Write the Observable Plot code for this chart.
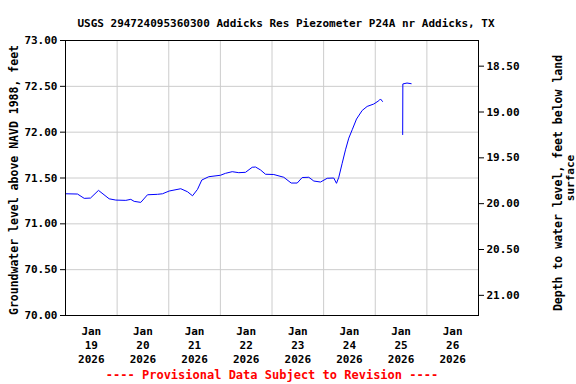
<!DOCTYPE html>
<html><head><meta charset="utf-8">
<script src="https://cdn.jsdelivr.net/npm/d3@7"></script>
<script src="https://cdn.jsdelivr.net/npm/@observablehq/plot@0.6"></script>
<style>body{margin:0;background:#fff} svg{display:block}</style>
</head><body><div id="chart"></div>
<script>
const title = "USGS 294724095360300 Addicks Res Piezometer P24A nr Addicks, TX";
const leftLabel = "Groundwater level above NAVD 1988, feet";
const rightLabel1 = "Depth to water level, feet below land";
const rightLabel2 = "surface";
const caption = "---- Provisional Data Subject to Revision ----";
const landSurface = 91.22;
const levelTicks = [70, 70.5, 71, 71.5, 72, 72.5, 73];
const depthTicks = [18.5, 19, 19.5, 20, 20.5, 21];
const dayNumbers = ["19", "20", "21", "22", "23", "24", "25", "26"];
const monthLabel = "Jan";
const yearLabel = "2026";

const times = [
  "2026-01-19T00:00Z","2026-01-19T05:35Z","2026-01-19T08:42Z","2026-01-19T11:37Z","2026-01-19T15:20Z",
  "2026-01-19T20:18Z","2026-01-19T23:23Z","2026-01-20T04:02Z","2026-01-20T06:21Z","2026-01-20T07:56Z",
  "2026-01-20T11:00Z","2026-01-20T14:07Z","2026-01-20T18:46Z","2026-01-20T21:06Z","2026-01-21T00:12Z",
  "2026-01-21T05:36Z","2026-01-21T08:43Z","2026-01-21T11:03Z","2026-01-21T13:22Z","2026-01-21T15:22Z",
  "2026-01-21T18:37Z","2026-01-22T00:03Z","2026-01-22T02:23Z","2026-01-22T05:30Z","2026-01-22T08:34Z",
  "2026-01-22T11:41Z","2026-01-22T14:48Z","2026-01-22T16:20Z","2026-01-22T18:39Z","2026-01-22T20:59Z",
  "2026-01-23T00:50Z","2026-01-23T05:29Z","2026-01-23T08:55Z","2026-01-23T11:43Z","2026-01-23T14:02Z",
  "2026-01-23T17:06Z","2026-01-23T19:26Z","2026-01-23T22:33Z","2026-01-24T01:40Z","2026-01-24T04:43Z",
  "2026-01-24T05:59Z","2026-01-24T07:03Z","2026-01-24T08:38Z","2026-01-24T10:10Z","2026-01-24T11:42Z",
  "2026-01-24T13:17Z","2026-01-24T15:17Z","2026-01-24T17:56Z","2026-01-24T20:15Z","2026-01-24T23:19Z",
  "2026-01-25T01:39Z","2026-01-25T02:26Z","2026-01-25T03:22Z","2026-01-25T08:00Z",
  "2026-01-25T12:45Z","2026-01-25T12:50Z","2026-01-25T14:46Z","2026-01-25T16:42Z"
];
const levels = [
  71.328, 71.325, 71.278, 71.281, 71.365,
  71.273, 71.259, 71.256, 71.267, 71.245,
  71.234, 71.317, 71.322, 71.328, 71.358,
  71.383, 71.350, 71.306, 71.376, 71.478,
  71.514, 71.530, 71.551, 71.569, 71.558,
  71.562, 71.617, 71.620, 71.588, 71.541,
  71.538, 71.508, 71.445, 71.445, 71.505,
  71.508, 71.467, 71.456, 71.497, 71.500,
  71.442, 71.508, 71.661, 71.807, 71.935,
  72.026, 72.143, 72.237, 72.281, 72.307,
  72.343, 72.362, 72.335, null,
  71.974, 72.526, 72.536, 72.529
];

const data = times.map((t, i) => ({t: new Date(t), v: levels[i] == null ? NaN : levels[i]}));
const dayStart = dayNumbers.map(d => new Date(`2026-01-${d}T00:00Z`));
const dayNoon = dayNumbers.map(d => new Date(`2026-01-${d}T12:00Z`));
const domainX = [new Date("2026-01-19T00:00Z"), new Date("2026-01-27T00:00Z")];
const font = "DejaVu Sans Mono";

const chart = Plot.plot({
  width: 576,
  height: 384,
  marginLeft: 65,
  marginRight: 98,
  marginTop: 40,
  marginBottom: 69,
  style: {fontFamily: font, fontSize: "11px", fontWeight: "bold", color: "black", background: "white"},
  x: {type: "utc", domain: domainX},
  y: {domain: [70, 73]},
  marks: [
    Plot.gridY(levelTicks, {stroke: "#cccccc", strokeOpacity: 1}),
    Plot.gridX(dayStart.slice(1), {stroke: "#cccccc", strokeOpacity: 1}),
    Plot.lineY(data, {x: "t", y: "v", stroke: "#0000ff", strokeWidth: 1}),
    Plot.frame({stroke: "black"}),
    Plot.axisY(levelTicks, {anchor: "left", tickFormat: d => d.toFixed(2), tickSize: 5, tickPadding: 3, label: null}),
    Plot.axisY(depthTicks.map(d => landSurface - d), {anchor: "right", tickFormat: v => (landSurface - v).toFixed(2), tickSize: 5, tickPadding: 3, label: null}),
    Plot.axisX(dayNoon, {anchor: "bottom", tickSize: 0, tickPadding: 10, lineHeight: 1.25,
      tickFormat: (d, i) => `${monthLabel}\n${dayNumbers[i]}\n${yearLabel}`, label: null}),
    Plot.text([title], {frameAnchor: "top", dx: 14, dy: -21, fontSize: 11}),
    Plot.text([leftLabel], {frameAnchor: "left", textAnchor: "middle", rotate: -90, dx: -51, dy: 2, fontSize: 11.5}),
    Plot.text([rightLabel1], {frameAnchor: "right", textAnchor: "middle", rotate: -90, dx: 80, dy: 5, fontSize: 11.5}),
    Plot.text([rightLabel2], {frameAnchor: "right", textAnchor: "middle", rotate: -90, dx: 92, dy: 0, fontSize: 11}),
    Plot.text([caption], {frameAnchor: "bottom", dy: 63, fill: "#ff0000", fontSize: 12})
  ]
});
document.getElementById("chart").appendChild(chart);
</script>
</body></html>
